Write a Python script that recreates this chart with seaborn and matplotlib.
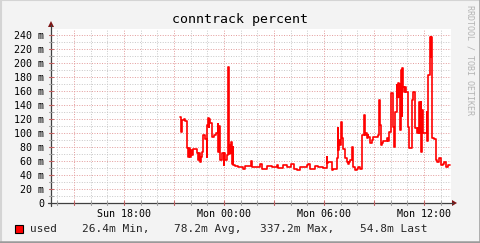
import numpy as np
import pandas as pd
import matplotlib
matplotlib.use("Agg")
import matplotlib.pyplot as plt
import seaborn as sns
from matplotlib.lines import Line2D
from matplotlib.patches import Polygon, Rectangle

# ---------------- data ----------------
title = "conntrack percent"
series_name = "used"
stats_labels = ["26.4m Min,", "78.2m Avg,", "337.2m Max,", "54.8m Last"]
watermark = "RRDTOOL / TOBI OETIKER"

x_tick_minutes = [-360, 0, 360, 720]
x_tick_labels = ["Sun 18:00", "Mon 00:00", "Mon 06:00", "Mon 12:00"]
y_ticks = [0, 20, 40, 60, 80, 100, 120, 140, 160, 180, 200, 220, 240]
y_tick_labels = ["0"] + [f"{v} m" for v in y_ticks[1:]]
window_minutes = (-623, 817)   # minutes relative to Mon 00:00

# step start times (minutes relative to Mon 00:00)
minutes = [
    -157, -154, -150, -144, -139, -135, -132, -130, -126, -122,
    -119, -115, -112, -98, -93, -89, -85, -83, -80, -75,
    -68, -62, -60, -58, -57, -54, -53, -50, -42, -38,
    -30, -23, -21, -18, -16, -14, -8, -1, 1, 4,
    12, 15, 19, 22, 24, 26, 29, 31, 33, 38,
    51, 69, 76, 96, 101, 130, 136, 154, 172, 190,
    195, 213, 226, 241, 250, 262, 274, 298, 303, 310,
    328, 339, 356, 370, 372, 375, 388, 393, 406, 409,
    411, 414, 418, 421, 426, 429, 436, 442, 446, 450,
    454, 460, 463, 465, 472, 478, 483, 490, 496, 505,
    508, 510, 514, 517, 519, 526, 532, 537, 553, 558,
    562, 564, 568, 573, 586, 591, 595, 601, 607, 612,
    617, 622, 624, 626, 629, 631, 634, 637, 640, 642,
    644, 649, 652, 655, 661, 666, 676, 681, 689, 696,
    698, 701, 703, 706, 708, 710, 714, 717, 730, 732,
    735, 742, 744, 746, 748, 750, 756, 762, 768, 775,
    780, 787, 793, 798, 807, 814,
]
# values in milli-units
used_milli = [
    123, 102, 119, 120, 117, 90, 78, 66, 78, 66,
    76, 68, 77, 71, 62, 72, 58, 66, 73, 97,
    92, 66, 111, 110, 121, 108, 120, 114, 94, 97,
    100, 113, 73, 110, 75, 61, 71, 54, 71, 61,
    68, 195, 70, 83, 72, 87, 56, 80, 55, 53,
    52, 49, 53, 60, 52, 56, 49, 53, 51, 55,
    50, 54, 51, 56, 49, 47, 51, 54, 56, 49,
    53, 51, 50, 66, 57, 59, 47, 49, 64, 107,
    76, 90, 83, 116, 93, 77, 64, 59, 56, 59,
    61, 80, 55, 51, 47, 49, 51, 49, 97, 126,
    97, 100, 93, 97, 94, 86, 90, 94, 97, 147,
    111, 83, 86, 89, 93, 89, 101, 157, 109, 80,
    130, 168, 151, 171, 152, 170, 104, 190, 125, 193,
    166, 159, 166, 159, 109, 78, 147, 159, 107, 100,
    107, 100, 144, 100, 144, 73, 133, 100, 130, 88,
    183, 237, 209, 237, 209, 93, 91, 61, 59, 64,
    54, 56, 58, 51, 54, 54,
]

df = pd.DataFrame({"minute": minutes, "used": used_milli})

# ---------------- style ----------------
sns.set_theme(style="white")
plt.rcParams["font.family"] = ["DejaVu Sans Mono", "DejaVu Sans"]

W, H = 481, 243
fig = plt.figure(figsize=(W / 100, H / 100), dpi=100)
fig.patch.set_facecolor("#F3F3F3")


def fx(px):
    return px / W


def fy(py):
    return 1 - py / H


X0, X1, YB, YT = 51, 451, 203, 29
ax = fig.add_axes([fx(X0), fy(YB), fx(X1) - fx(X0), fy(YT) - fy(YB)])
ax.set_facecolor("white")
ax.set_xlim(*window_minutes)
ytop = (YB - YT) / 0.7
ax.set_ylim(0, ytop)

minor_col = "#C8C8C8"
major_col = "#E39A9A"
dot = (0, (1, 1.6))
for v in range(10, 250, 20):
    ax.axhline(v, color=minor_col, lw=0.7, ls=dot, zorder=1)
for v in y_ticks[1:]:
    ax.axhline(v, color=major_col, lw=0.7, ls=dot, zorder=1)
for m in range(-600, 817, 60):
    if m % 180 == 0:
        ax.axvline(m, color=major_col, lw=0.7, ls=dot, zorder=1)
    else:
        ax.axvline(m, color=minor_col, lw=0.7, ls=dot, zorder=1)

sns.lineplot(data=df, x="minute", y="used", ax=ax, color="#FF0000",
             linewidth=1.2, drawstyle="steps-post", estimator=None,
             legend=False, zorder=3)

for s in ax.spines.values():
    s.set_visible(False)
ax.set_xlabel("")
ax.set_ylabel("")
ax.set_xticks(x_tick_minutes, x_tick_labels)
ax.set_yticks(y_ticks, y_tick_labels)
ax.tick_params(axis="x", length=0, pad=4, labelsize=7.2, colors="#000000")
ax.tick_params(axis="y", length=0, pad=5, labelsize=7.2, colors="#000000")

# axis lines, ticks and arrows (figure coordinates)
axis_col = "#404040"
arrow_col = "#7F1515"
fig.add_artist(Line2D([fx(48), fx(453)], [fy(YB), fy(YB)], color=axis_col, lw=0.9))
fig.add_artist(Line2D([fx(X0), fx(X0)], [fy(206), fy(25)], color=axis_col, lw=0.9))
fig.add_artist(Polygon([[fx(452), fy(200)], [fx(452), fy(206)], [fx(457), fy(YB)]],
                       closed=True, color=arrow_col, lw=0))
fig.add_artist(Polygon([[fx(48), fy(27)], [fx(54), fy(27)], [fx(X0), fy(21)]],
                       closed=True, color=arrow_col, lw=0))
for m in range(-600, 817, 60):
    px = X0 + (m - window_minutes[0]) / 3.6
    c = "#C06060" if m % 180 == 0 else "#A0A0A0"
    fig.add_artist(Line2D([fx(px), fx(px)], [fy(201), fy(205)], color=c, lw=0.8))
for v in range(10, 250, 10):
    py = YB - v * 0.7
    c = "#C06060" if v % 20 == 0 else "#A0A0A0"
    fig.add_artist(Line2D([fx(49), fx(53)], [fy(py), fy(py)], color=c, lw=0.8))

# title
fig.text(fx(240), fy(19), title, ha="center", va="center", fontsize=9.5, color="#000000")

# legend
fig.add_artist(Rectangle((fx(15), fy(233)), fx(8), fy(225) - fy(233),
                         facecolor="#FF0000", edgecolor="#000000", lw=0.8))
fig.text(fx(30), fy(229), series_name, ha="left", va="center", fontsize=8)
for txt, px in zip(stats_labels, [81.5, 174, 260, 360]):
    fig.text(fx(px), fy(229), txt, ha="left", va="center", fontsize=8)

# watermark
fig.text(fx(470), fy(5), watermark, rotation=270, ha="center", va="top",
         fontsize=6.0, color="#B4B4B4")

# frame
fig.add_artist(Line2D([0, 1], [fy(0.5), fy(0.5)], color="#D4D4D4", lw=1.5))
fig.add_artist(Line2D([fx(0.5), fx(0.5)], [0, 1], color="#D4D4D4", lw=1.5))
fig.add_artist(Line2D([0, 1], [fy(242), fy(242)], color="#9A9A9A", lw=1.8))
fig.add_artist(Line2D([fx(480), fx(480)], [0, 1], color="#9A9A9A", lw=1.8))

fig.savefig("out.png", dpi=100, facecolor=fig.get_facecolor())
